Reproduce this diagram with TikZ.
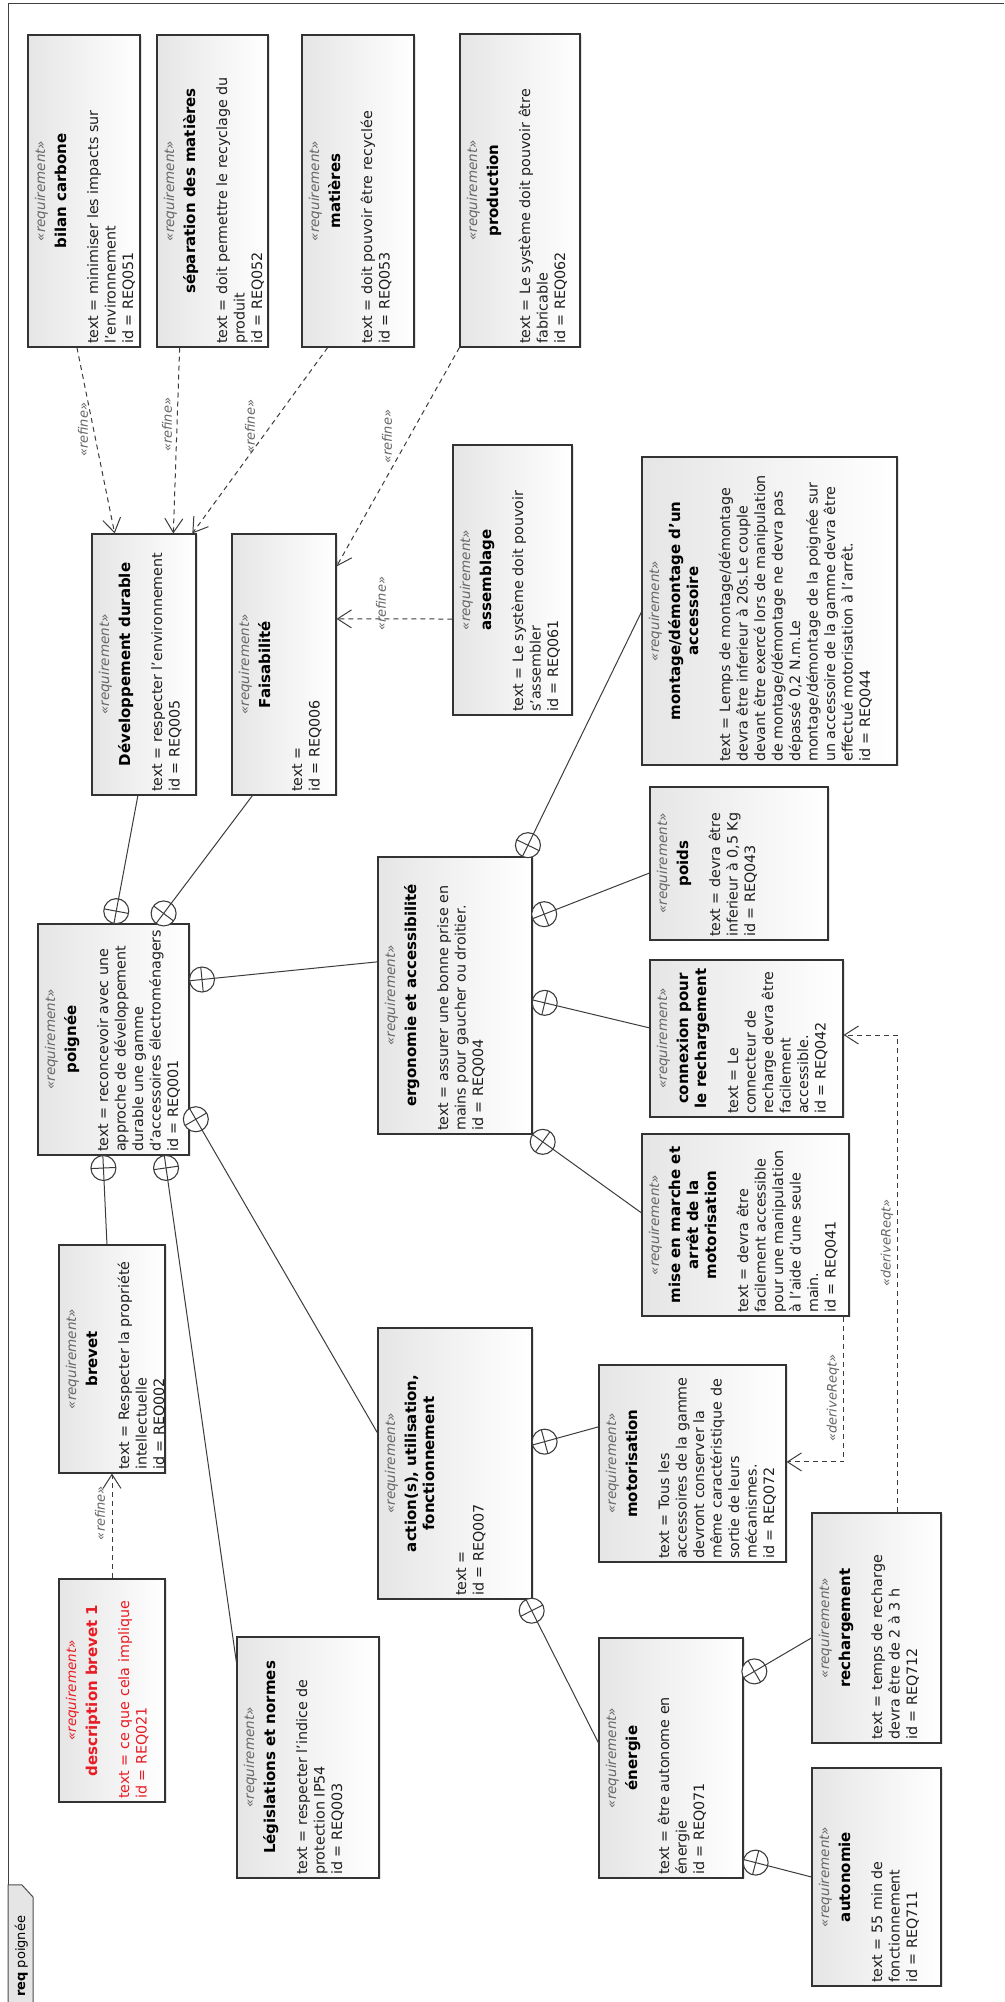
\documentclass[tikz,border=0pt]{standalone}
\usepackage{fontspec}
\setmainfont{DejaVu Sans}[ItalicFont={DejaVu Sans Oblique},BoldFont={DejaVu Sans Bold},BoldItalicFont={DejaVu Sans Bold Oblique}]
\usetikzlibrary{calc,arrows.meta,shadows}
\definecolor{redc}{RGB}{232,28,36}
\definecolor{linec}{RGB}{60,60,60}
\tikzset{
  reqbox/.style={rectangle, draw=black!80, line width=1.1pt, inner sep=0pt,
    left color=black!10, right color=white,
    drop shadow={opacity=0.22, shadow xshift=1.5pt, shadow yshift=-1.5pt}},
  stereo/.style={anchor=base, inner sep=0pt, font=\fontsize{13.5}{16}\selectfont\itshape, text=black!60},
  titlef/.style={anchor=base, inner sep=0pt, font=\fontsize{15}{18}\selectfont\bfseries, text=black},
  bodyf/.style={anchor=base west, inner sep=0pt, font=\fontsize{14.3}{17.5}\selectfont, text=black!88},
  isred/.style={text=redc},
  ctn/.style={circle, draw=linec, fill=white, line width=1.1pt, minimum size=25pt, inner sep=0pt},
  conn/.style={draw=linec, line width=1pt},
  dep/.style={draw=linec, line width=1pt, dash pattern=on 5pt off 4pt, -{Straight Barb[length=14pt,width=18pt]}},
  deplabel/.style={inner sep=0pt, font=\fontsize{13}{15}\selectfont\itshape, text=black!60},
}
% #1 name, #2 x-left, #3 y-top, #4 x-right, #5 y-bottom (reference image coordinates), #6 title lines, #7 body lines, #8 extra style
\newcommand\reqbox[8]{%
  \pgfmathsetmacro\uA{2002-#5}%
  \pgfmathsetmacro\uB{2002-#3}%
  \pgfmathsetmacro\uC{(\uA+\uB)/2}%
  \pgfmathsetmacro\vC{-(#2+#4)/2}%
  \pgfmathsetmacro\bw{\uB-\uA}%
  \pgfmathsetmacro\bh{#4-#2}%
  \node[reqbox, minimum width=\bw pt, minimum height=\bh pt] (#1) at (\uC,\vC) {};
  \node[stereo,#8] (#1-st) at (\uC,{-(#2+17)}) {«requirement»};
  \foreach \ttl [count=\k] in {#6} {%
    \node[titlef,#8] (#1-ti\k) at (\uC,{-(#2+38+18*(\k-1))}) {\ttl};
    \xdef\ntitle{\k}}%
  \foreach \bdl [count=\j] in {#7} {%
    \node[bodyf,#8] (#1-bd\j) at ({\uA+3},{-(#2+38+18*(\ntitle-1)+32+17.5*(\j-1))}) {\bdl};}%
}
% containment: #1 name, #2 parent point, #3 child point
\newcommand\contain[3]{%
  \coordinate (#1p) at #2;
  \coordinate (#1c) at #3;
  \node[ctn] (#1) at ($(#1p)!12.5pt!(#1c)$) {};
  \draw[conn] (#1c) -- (#1p);
  \draw[conn] ($(#1)!12.5pt!90:(#1c)$) -- ($(#1)!12.5pt!-90:(#1c)$);
}
\begin{document}
\begin{tikzpicture}[x=1pt,y=1pt]
\useasboundingbox (0,0) rectangle (1004,2002);
\fill[white] (0,0) rectangle (1004,2002);
\begin{scope}[rotate=90, transform shape]
% frame and tab
\draw[black!75, line width=1pt] (0,-8) -- (1998,-8) -- (1998,-1004);
\filldraw[fill=black!10, draw=black!70, line width=1pt] (0,-8) -- (117,-8) -- (117,-22) -- (105,-33) -- (0,-33);
\node[anchor=base west, inner sep=0pt, font=\fontsize{13}{15}\selectfont] (tab) at (5,-25) {\textbf{req} poignée};

% requirement boxes
\reqbox{bilan}{28}{35}{140}{347}{{bilan carbone}}{{text = minimiser les impacts sur},{l'environnement},{id = REQ051}}{}
\reqbox{separ}{157}{35}{268}{347}{{séparation des matières}}{{text = doit permettre le recyclage du},{produit},{id = REQ052}}{}
\reqbox{mat}{302}{35}{414}{347}{{matières}}{{text = doit pouvoir être recyclée},{id = REQ053}}{}
\reqbox{prod}{460}{34}{580}{347}{{production}}{{text = Le système doit pouvoir être},{fabricable},{id = REQ062}}{}
\reqbox{dev}{92}{534}{196}{795}{{Développement durable}}{{text = respecter l'environnement},{id = REQ005}}{}
\reqbox{fais}{232}{534}{336}{795}{{Faisabilité}}{{text =},{id = REQ006}}{}
\reqbox{assem}{453}{445}{572}{715}{{assemblage}}{{text = Le système doit pouvoir},{s'assembler},{id = REQ061}}{}
\reqbox{montage}{642}{457}{897}{765}{{montage/démontage d'un},{accessoire}}{{text = Lemps de montage/démontage},{devra être inferieur à 20s.Le couple},{devant être exercé lors de manipulation},{de montage/démontage ne devra pas},{dépassé 0,2 N.m.Le},{montage/démontage de la poignée sur},{un accessoire de la gamme devra être},{effectué motorisation à l'arrêt.},{id = REQ044}}{}
\reqbox{poids}{650}{787}{828}{940}{{poids}}{{text = devra être},{inferieur à 0,5 Kg},{id = REQ043}}{}
\reqbox{poignee}{38}{924}{189}{1155}{{poignée}}{{text = reconcevoir avec une},{approche de développement},{durable une gamme},{d'accessoires électroménagers},{id = REQ001}}{}
\reqbox{ergo}{378}{857}{532}{1134}{{ergonomie et accessibilité}}{{text = assurer une bonne prise en},{mains pour gaucher ou droitier.},{id = REQ004}}{}
\reqbox{connex}{650}{960}{843}{1117}{{connexion pour},{le rechargement}}{{text = Le},{connecteur de},{recharge devra être},{facilement},{accessible.},{id = REQ042}}{}
\reqbox{mise}{642}{1134}{849}{1316}{{mise en marche et},{arrêt de la},{motorisation}}{{text = devra être},{facilement accessible},{pour une manipulation},{à l'aide d'une seule},{main.},{id = REQ041}}{}
\reqbox{brevet}{59}{1245}{165}{1473}{{brevet}}{{text = Respecter la propriété},{intellectuelle},{id = REQ002}}{}
\reqbox{action}{378}{1328}{532}{1599}{{action(s), utilisation,},{fonctionnement}}{{text =},{id = REQ007}}{}
\reqbox{motor}{599}{1365}{786}{1562}{{motorisation}}{{text = Tous les},{accessoires de la gamme},{devront conserver la},{même caractéristique de},{sortie de leurs},{mécanismes.},{id = REQ072}}{}
\reqbox{desc}{59}{1579}{165}{1802}{{description brevet 1}}{{text = ce que cela implique},{id = REQ021}}{isred}
\reqbox{legis}{237}{1637}{379}{1878}{{Législations et normes}}{{text = respecter l'indice de},{protection IP54},{id = REQ003}}{}
\reqbox{energie}{599}{1638}{743}{1878}{{énergie}}{{text = être autonome en},{énergie},{id = REQ071}}{}
\reqbox{recharg}{812}{1513}{941}{1743}{{rechargement}}{{text = temps de recharge},{devra être de 2 à 3 h},{id = REQ712}}{}
\reqbox{autonom}{812}{1768}{941}{1986}{{autonomie}}{{text = 55 min de},{fonctionnement},{id = REQ711}}{}

% containment relations
\contain{c1}{($(poignee.north east)!0.503!(poignee.south east)$)}{($(dev.north west)!0.442!(dev.south west)$)}
\contain{c2}{($(poignee.north east)!0.78!(poignee.south east)$)}{($(fais.north west)!0.20!(fais.south west)$)}
\contain{c3}{($(poignee.south west)!0.753!(poignee.south east)$)}{($(ergo.north west)!0.621!(ergo.north east)$)}
\contain{c4}{($(poignee.north west)!0.43!(poignee.south west)$)}{($(brevet.north east)!0.453!(brevet.south east)$)}
\contain{c5}{($(poignee.north west)!0.834!(poignee.south west)$)}{($(legis.north west)!0.892!(legis.north east)$)}
\contain{c6}{($(poignee.south west)!0.203!(poignee.south east)$)}{($(action.north west)!0.6125!(action.north east)$)}
\contain{c7}{($(ergo.north east)!0.935!(ergo.south east)$)}{($(montage.north west)!0.497!(montage.north east)$)}
\contain{c8}{($(ergo.south west)!0.776!(ergo.south east)$)}{($(poids.north west)!0.438!(poids.north east)$)}
\contain{c9}{($(ergo.south west)!0.484!(ergo.south east)$)}{($(connex.north west)!0.567!(connex.north east)$)}
\contain{c10}{(ergo.south west)}{($(mise.north west)!0.566!(mise.north east)$)}
\contain{c11}{($(action.south west)!0.568!(action.south east)$)}{($(motor.north west)!0.685!(motor.north east)$)}
\contain{c12}{($(action.north west)!0.958!(action.south west)$)}{($(energie.north west)!0.5625!(energie.north east)$)}
\contain{c13}{($(energie.south west)!0.833!(energie.south east)$)}{($(recharg.north west)!0.457!(recharg.north east)$)}
\contain{c14}{($(energie.south west)!0.079!(energie.south east)$)}{($(autonom.north west)!0.5!(autonom.north east)$)}

% refine dependencies
\draw[dep] ($(bilan.north west)!0.4375!(bilan.south west)$) -- ($(dev.north east)!0.221!(dev.south east)$);
\draw[dep] ($(separ.north west)!0.207!(separ.south west)$) -- ($(dev.north east)!0.779!(dev.south east)$);
\draw[dep] ($(mat.north west)!0.232!(mat.south west)$) -- ($(dev.north east)!0.96!(dev.south east)$);
\draw[dep] (prod.north west) -- ($(fais.south west)!0.874!(fais.south east)$);
\draw[dep] ($(assem.north west)!0.356!(assem.north east)$) -- ($(fais.south west)!0.674!(fais.south east)$);
\draw[dep] (desc.east) -- (brevet.west);
% deriveReqt dependencies
\draw[dep] ($(mise.north west)!0.971!(mise.south west)$) -| ($(motor.south west)!0.508!(motor.south east)$);
\draw[dep] ($(recharg.north east)!0.659!(recharg.south east)$) -| ($(connex.south west)!0.522!(connex.south east)$);

% labels
\node[deplabel] (l1) at (1572,-83) {«refine»};
\node[deplabel] (l2) at (1577,-167) {«refine»};
\node[deplabel] (l3) at (1575,-250) {«refine»};
\node[deplabel] (l4) at (1565,-387) {«refine»};
\node[deplabel] (l5) at (1398,-381) {«refine»};
\node[deplabel] (l6) at (489,-100) {«refine»};
\node[deplabel] (l7) at (604,-833) {«deriveReqt»};
\node[deplabel] (l8) at (759,-887) {«deriveReqt»};
\end{scope}
\end{tikzpicture}
\end{document}
